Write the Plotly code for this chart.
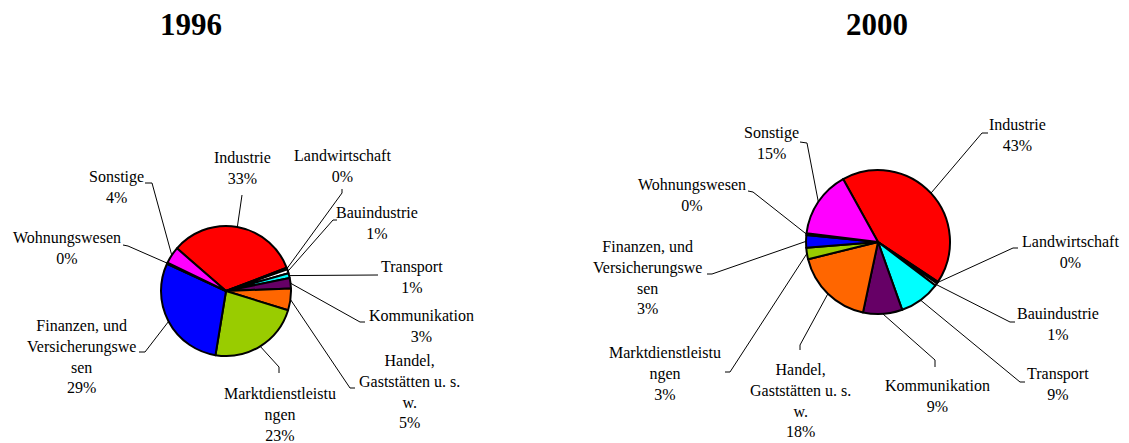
import math
import plotly.graph_objects as go

# target window is 1129x443; the page body has an 8px margin, so the figure is 8px smaller
WIN_W, WIN_H = 1129, 443
OFF = 8
W, H = WIN_W - OFF, WIN_H - OFF

categories = ["Industrie", "Landwirtschaft", "Bauindustrie", "Transport", "Kommunikation",
              "Handel, Gaststätten u. s. w.", "Marktdienstleistungen",
              "Finanzen, und Versicherungswesen", "Wohnungswesen", "Sonstige"]
values_1996 = [32.8, 0.4, 1.0, 1.2, 2.6, 5.4, 22.8, 29.3, 0.3, 4.2]
values_2000 = [42.4, 0.4, 0.6, 9.2, 8.8, 17.8, 2.6, 2.8, 0.4, 15.0]
# label texts as shown (Excel wrapping)
labels_1996 = ["Industrie<br>33%", "Landwirtschaft<br>0%", "Bauindustrie<br>1%", "Transport<br>1%",
               "Kommunikation<br>3%", "Handel,<br>Gaststätten u. s.<br>w.<br>5%",
               "Marktdienstleistu<br>ngen<br>23%", "Finanzen, und<br>Versicherungswe<br>sen<br>29%",
               "Wohnungswesen<br>0%", "Sonstige<br>4%"]
labels_2000 = ["Industrie<br>43%", "Landwirtschaft<br>0%", "Bauindustrie<br>1%", "Transport<br>9%",
               "Kommunikation<br>9%", "Handel,<br>Gaststätten u. s.<br>w.<br>18%",
               "Marktdienstleistu<br>ngen<br>3%", "Finanzen, und<br>Versicherungswe<br>sen<br>3%",
               "Wohnungswesen<br>0%", "Sonstige<br>15%"]
colors = ["#FF0000", "#FFFFFF", "#FFFFFF", "#00FFFF", "#660066", "#FF6600",
          "#99CC00", "#0000FF", "#FFFFFF", "#FF00FF"]

# layout: pie centres / radii (window px), rotation (deg clockwise from 12 o'clock)
pies = [
    dict(title="1996", vals=values_1996, labels=labels_1996, cx=226, cy=291, r=65, rot=-49, tx=191),
    dict(title="2000", vals=values_2000, labels=labels_2000, cx=878, cy=242, r=72, rot=-29, tx=877),
]
# label centres and leader elbows (window px): (label_x, label_y, elbow_x, elbow_y, tail_x, tail_y)
label_pos_1996 = [
    (242, 168, 242, 195, 242, 195),
    (342, 166, 342, 193, 342, 189),
    (377, 223, 333, 220, 337, 220),
    (412, 277, 378, 275, 378, 275),
    (421, 326, 360, 322, 365, 322),
    (409, 391, 350, 388, 355, 388),
    (280, 414, 279, 367, 279, 373),
    (81, 356, 145, 352, 139, 352),
    (67, 248, 128, 246, 123, 245),
    (116, 187, 152, 183, 145, 183),
]
label_pos_2000 = [
    (1017, 135, 982, 133, 988, 133),
    (1070, 252, 1013, 248, 1018, 248),
    (1058, 324, 1010, 322, 1015, 322),
    (1058, 384, 1020, 382, 1025, 382),
    (937, 396, 935, 360, 935, 367),
    (800, 400, 800, 345, 800, 350),
    (665, 373, 730, 372, 725, 372),
    (647, 277, 712, 274, 707, 274),
    (692, 195, 753, 192, 748, 191),
    (771, 143, 807, 143, 800, 142),
]
pies[0]["lp"] = label_pos_1996
pies[1]["lp"] = label_pos_2000

FONT = "Liberation Serif, Times New Roman, serif"

fig = go.Figure()
shapes = []
annotations = []


def px(x):
    return (x - OFF) / W


def py(y):
    return 1 - (y - OFF) / H


for p in pies:
    cx, cy, r = p["cx"], p["cy"], p["r"]
    fig.add_trace(go.Pie(
        labels=categories, values=p["vals"], sort=False, direction="clockwise",
        rotation=p["rot"], textinfo="none", hoverinfo="label+percent",
        marker=dict(colors=colors, line=dict(color="black", width=2)),
        domain=dict(x=[px(cx - r), px(cx + r)], y=[py(cy + r), py(cy - r)]),
        showlegend=False,
    ))
    total = sum(p["vals"])
    ang = p["rot"]
    for v, lab, (lx, ly, ex, ey, tx, ty) in zip(p["vals"], p["labels"], p["lp"]):
        span = v / total * 360
        mid = math.radians(ang + span / 2)
        ang += span
        sx = cx + r * math.sin(mid)
        sy = cy - r * math.cos(mid)
        path = f"M {px(sx)} {py(sy)} L {px(ex)} {py(ey)} L {px(tx)} {py(ty)}"
        shapes.append(dict(type="path", xref="paper", yref="paper", path=path,
                           line=dict(color="black", width=1)))
        annotations.append(dict(x=px(lx), y=py(ly), xref="paper", yref="paper", text=lab,
                                showarrow=False, xanchor="center", yanchor="middle",
                                font=dict(family=FONT, size=16, color="black")))
    annotations.append(dict(x=px(p["tx"]), y=py(24), xref="paper", yref="paper",
                            text="<b>" + p["title"] + "</b>", showarrow=False,
                            xanchor="center", yanchor="middle",
                            font=dict(family=FONT, size=31, color="black")))

fig.update_layout(width=W, height=H, margin=dict(l=0, r=0, t=0, b=0),
                  paper_bgcolor="white", plot_bgcolor="white",
                  shapes=shapes, annotations=annotations)
fig.write_html("out.html")
